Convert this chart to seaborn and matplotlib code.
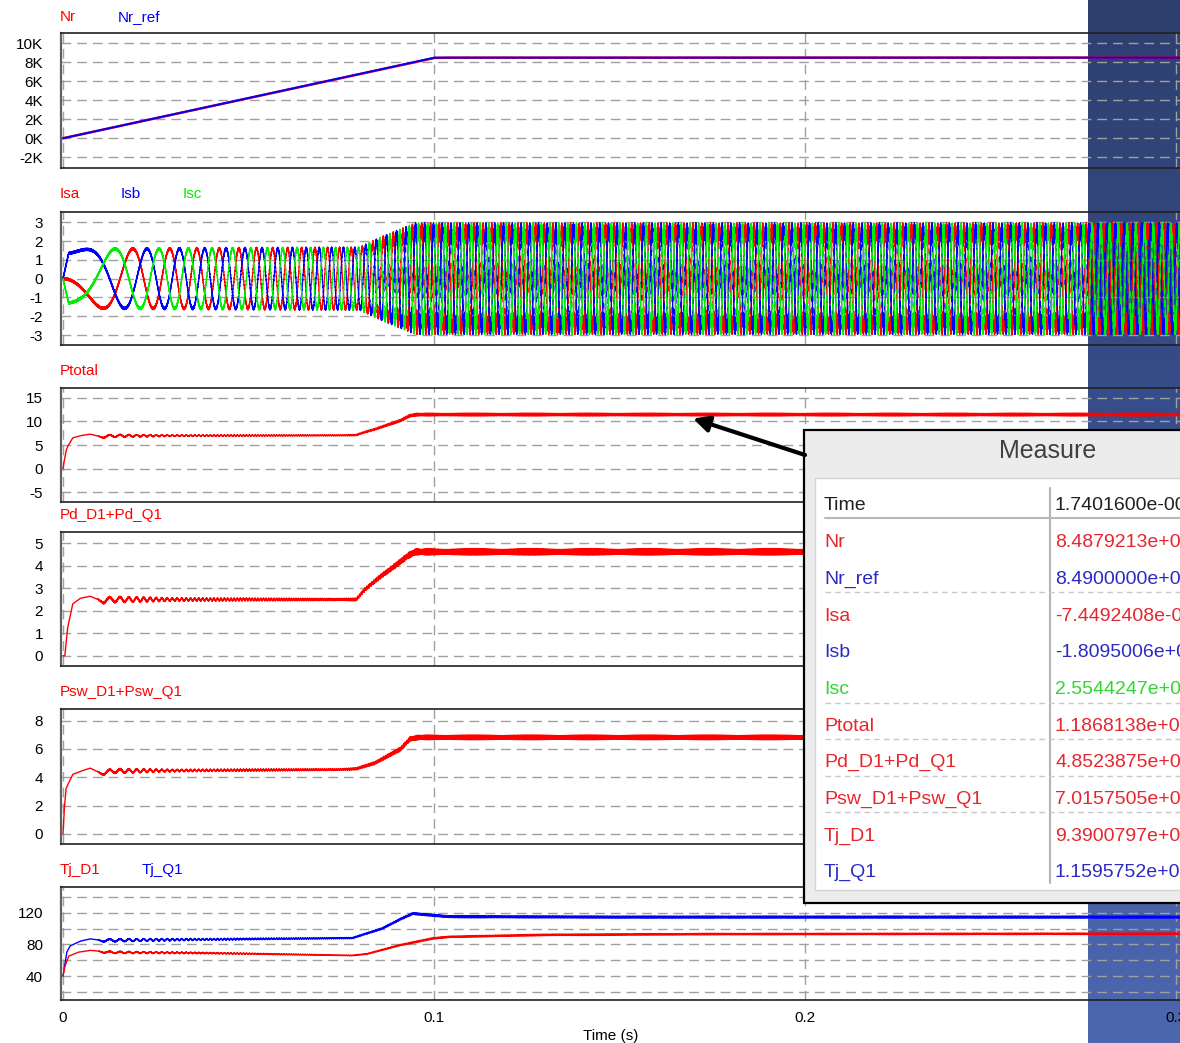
import numpy as np
import matplotlib
matplotlib.use("Agg")
import matplotlib.pyplot as plt
from matplotlib.patches import Rectangle
from matplotlib.colors import LinearSegmentedColormap
from matplotlib.ticker import FuncFormatter
import seaborn as sns

# ------------------------------------------------------------------ data
time_ticks = [0.0, 0.1, 0.2, 0.3]
time_tick_labels = ["0", "0.1", "0.2", "0.3"]

# rotor speed (rpm) and its reference
speed_t = [0.0, 0.100, 0.103, 0.174, 0.301]
nr_ref_rpm = [0, 8490, 8490, 8490, 8490]
nr_rpm = [0, 8455, 8482, 8487.9, 8489]
pole_pairs = 3

# phase-current amplitude (A) and PWM ripple (A)
amp_t = [0.0, 0.0015, 0.010, 0.080, 0.086, 0.095, 0.301]
amp_a = [0.0, 1.52, 1.58, 1.62, 2.10, 2.70, 2.70]
cur_rip_t = [0.0, 0.080, 0.095, 0.301]
cur_rip_a = [0.06, 0.07, 0.28, 0.28]

# conduction losses Pd_D1+Pd_Q1 (W)
pd_t = [0.0, 0.0005, 0.0012, 0.0026, 0.0046, 0.0073, 0.0100, 0.0140,
        0.0790, 0.0814, 0.0854, 0.0895, 0.0930, 0.0950, 0.3010]
pd_w = [0.0, 0.0, 1.2, 2.30, 2.55, 2.65, 2.45, 2.50,
        2.50, 2.95, 3.50, 4.00, 4.45, 4.62, 4.62]
pd_rip_t = [0.0, 0.009, 0.011, 0.030, 0.075, 0.095, 0.301]
pd_rip_w = [0.0, 0.0, 0.12, 0.06, 0.04, 0.11, 0.11]

# switching losses Psw_D1+Psw_Q1 (W)
psw_t = [0.0, 0.0003, 0.0008, 0.0026, 0.0050, 0.0073, 0.0100, 0.0140,
         0.0750, 0.0790, 0.0840, 0.0910, 0.0935, 0.0960, 0.3010]
psw_w = [0.0, 1.6, 3.2, 4.20, 4.45, 4.65, 4.30, 4.45,
         4.55, 4.60, 5.00, 6.00, 6.70, 6.82, 6.82]
psw_rip_t = [0.0, 0.009, 0.011, 0.030, 0.075, 0.095, 0.301]
psw_rip_w = [0.0, 0.0, 0.15, 0.07, 0.05, 0.13, 0.13]

# junction temperatures (degC)
tj_q1_t = [0.0, 0.0005, 0.0010, 0.0019, 0.0046, 0.0073, 0.0100, 0.0200,
           0.0780, 0.0860, 0.0910, 0.0943, 0.1040, 0.1500, 0.3010]
tj_q1_c = [40, 55, 70, 78, 84, 87, 85, 85.5,
           88, 100, 112, 119, 115, 114.5, 114.5]
tj_d1_t = [0.0, 0.0005, 0.0015, 0.0040, 0.0073, 0.0120, 0.0400, 0.0780,
           0.0820, 0.0908, 0.0997, 0.1040, 0.1300, 0.1740, 0.3010]
tj_d1_c = [40, 52, 65, 70, 72.5, 70, 69, 66,
           68, 79, 87.5, 89.5, 92, 93, 93.5]
tj_rip_t = [0.0, 0.009, 0.011, 0.040, 0.075, 0.095, 0.301]
tj_q1_rip = [0.0, 0.0, 1.6, 0.9, 0.6, 1.1, 1.1]
tj_d1_rip = [0.0, 0.0, 1.2, 0.7, 0.4, 0.8, 0.8]

# probe readout
measure_names = ["Time", "Nr", "Nr_ref", "Isa", "Isb", "Isc", "Ptotal",
                 "Pd_D1+Pd_Q1", "Psw_D1+Psw_Q1", "Tj_D1", "Tj_Q1"]
measure_values = ["1.7401600e-001", "8.4879213e+003", "8.4900000e+003",
                  "-7.4492408e-001", "-1.8095006e+000", "2.5544247e+000",
                  "1.1868138e+001", "4.8523875e+000", "7.0157505e+000",
                  "9.3900797e+001", "1.1595752e+002"]

# ------------------------------------------------------------------ signals
fs = 200_000
f_sw = 10_000
t = np.arange(0.0, 0.3012, 1.0 / fs)

nr = np.interp(t, speed_t, nr_rpm)
nr_ref = np.interp(t, speed_t, nr_ref_rpm)
theta = 2 * np.pi * pole_pairs * np.cumsum(nr / 60.0) / fs

amp = np.interp(t, amp_t, amp_a)
crip = np.interp(t, cur_rip_t, cur_rip_a)
sw = 2 * np.pi * f_sw * t
isa = -amp * np.sin(theta) + crip * np.sin(sw)
isb = -amp * np.sin(theta - 2 * np.pi / 3) + crip * np.sin(sw + 2.1)
isc = -amp * np.sin(theta + 2 * np.pi / 3) + crip * np.sin(sw + 4.2)

wob = np.cos(6 * theta) + 0.35 * np.sin(sw * 0.77)
pd_loss = np.interp(t, pd_t, pd_w) + np.interp(t, pd_rip_t, pd_rip_w) * wob
psw_loss = np.interp(t, psw_t, psw_w) + np.interp(t, psw_rip_t, psw_rip_w) * wob
ptotal = pd_loss + psw_loss
tj_q1 = np.interp(t, tj_q1_t, tj_q1_c) + np.interp(t, tj_rip_t, tj_q1_rip) * wob
tj_d1 = np.interp(t, tj_d1_t, tj_d1_c) + np.interp(t, tj_rip_t, tj_d1_rip) * wob

# ------------------------------------------------------------------ style
sns.set_style("white")
plt.rcParams["font.family"] = ["Liberation Sans", "DejaVu Sans"]
plt.rcParams["axes.unicode_minus"] = False

RED, BLUE, GREEN = "#ff0000", "#0000ff", "#00ee00"
W, H = 1180, 1043
fig = plt.figure(figsize=(W / 100, H / 100), dpi=100)
fig.patch.set_facecolor("white")

# navy window strip behind the right end of the plots
bg = fig.add_axes([1088 / W, 0, (W - 1088) / W, 1], zorder=-5)
band = LinearSegmentedColormap.from_list("band", ["#2d3f6e", "#3b5292", "#4d67af"])
bg.imshow(np.linspace(0, 1, 256).reshape(-1, 1), aspect="auto", cmap=band,
          extent=[0, 1, 1, 0])
bg.axis("off")

px_left = 61
x0 = -(63 - px_left) / 3710.0
x1 = (W - 63) / 3710.0

# (top px, bottom px, ylim, yticks, minor grid ticks)
panels = [
    (33.3, 168.3, (-3160, 11050), [-2000, 0, 2000, 4000, 6000, 8000, 10000], []),
    (211.7, 345.0, (-3.53, 3.56), [-3, -2, -1, 0, 1, 2, 3], []),
    (388.3, 501.7, (-6.99, 17.0), [-5, 0, 5, 10, 15], []),
    (532.3, 665.7, (-0.445, 5.49), [0, 1, 2, 3, 4, 5], []),
    (709.3, 844.0, (-0.706, 8.8), [0, 2, 4, 6, 8], []),
    (886.7, 1000.0, (9.7, 152.9), [40, 80, 120], [20, 60, 100, 140]),
]

axes = []
for i, (top, bot, ylim, yt, ymin) in enumerate(panels):
    ax = fig.add_axes([px_left / W, 1 - bot / H, (W - px_left) / W, (bot - top) / H])
    ax.set_facecolor("none")
    ax.set_xlim(x0, x1)
    ax.set_ylim(*ylim)
    ax.set_xticks(time_ticks)
    ax.set_yticks(yt)
    if ymin:
        ax.set_yticks(ymin, minor=True)
    ax.grid(True, which="both", color="#a0a0a0", lw=1.0, linestyle=(0, (7, 4.3)))
    ax.tick_params(axis="both", which="both", length=0, labelsize=11,
                   colors="black")
    ax.tick_params(axis="y", pad=13)
    ax.tick_params(axis="x", pad=8)
    for s in ("top", "bottom"):
        ax.spines[s].set_color("#202020")
        ax.spines[s].set_linewidth(1.2)
    ax.spines["left"].set_color("#606060")
    ax.spines["left"].set_linewidth(1.6)
    ax.spines["right"].set_visible(False)
    if i < len(panels) - 1:
        ax.tick_params(axis="x", labelbottom=False)
    else:
        ax.set_xticklabels(time_tick_labels)
    axes.append(ax)

axes[0].yaxis.set_major_formatter(FuncFormatter(lambda v, p: f"{int(round(v / 1000))}K"))


def trace(ax, y, color, lw):
    sns.lineplot(x=t, y=y, ax=ax, color=color, lw=lw, estimator=None,
                 sort=False, legend=False)
    ax.set_xlabel("")
    ax.set_ylabel("")


trace(axes[0], nr, RED, 1.8)
trace(axes[0], nr_ref, BLUE, 1.4)
trace(axes[1], isa, RED, 0.9)
trace(axes[1], isb, BLUE, 0.9)
trace(axes[1], isc, GREEN, 0.9)
trace(axes[2], ptotal, RED, 1.0)
trace(axes[3], pd_loss, RED, 1.0)
trace(axes[4], psw_loss, RED, 1.0)
trace(axes[5], tj_q1, BLUE, 1.0)
trace(axes[5], tj_d1, RED, 1.0)

# ------------------------------------------------------------------ overlay (pixel coordinates)
ov = fig.add_axes([0, 0, 1, 1], zorder=10)
ov.set_xlim(0, W)
ov.set_ylim(H, 0)
ov.axis("off")
ov.patch.set_alpha(0)

lab = dict(fontsize=11, va="center", ha="left")
ov.text(60, 17, "Nr", color=RED, **lab)
ov.text(118, 17, "Nr_ref", color=BLUE, **lab)
ov.text(60, 194, "Isa", color=RED, **lab)
ov.text(121, 194, "Isb", color=BLUE, **lab)
ov.text(183, 194, "Isc", color=GREEN, **lab)
ov.text(60, 371, "Ptotal", color=RED, **lab)
ov.text(60, 515, "Pd_D1+Pd_Q1", color=RED, **lab)
ov.text(60, 692, "Psw_D1+Psw_Q1", color=RED, **lab)
ov.text(60, 870, "Tj_D1", color=RED, **lab)
ov.text(142, 870, "Tj_Q1", color=BLUE, **lab)
ov.text(611, 1036, "Time (s)", fontsize=11, va="center", ha="center", color="black")

# arrow pointing at the Ptotal trace
ov.annotate("", xy=(693, 418.5), xytext=(805, 455),
            arrowprops=dict(arrowstyle="-|>", lw=3.0, color="black",
                            mutation_scale=24, shrinkA=0, shrinkB=0))

# measure window
ov.add_patch(Rectangle((804, 429.5), 420, 473, facecolor="#ececec",
                       edgecolor="black", lw=1.6))
ov.add_patch(Rectangle((815, 478), 420, 412, facecolor="white",
                       edgecolor="#d4d4d4", lw=1.0))
ov.text(1048, 451, "Measure", fontsize=18, color="#404040", ha="center", va="center")
ov.plot([1049.5, 1049.5], [488, 883], color="#b4b4b4", lw=1.5)
ov.plot([825, 1200], [518.3, 518.3], color="#b8b8b8", lw=1.5)
for yy in [591.7, 702.7, 739.0, 775.7, 812.3]:
    ov.plot([825, 1200], [yy, yy], color="#c8c8c8", lw=1.0, linestyle=(0, (4, 3)))

row_colors = ["#202020", "#e6262e", "#2b2bc4", "#e6262e", "#2b2bc4", "#2fd82f",
              "#e6262e", "#e6262e", "#e6262e", "#e6262e", "#2b2bc4"]
for k, (name, val, col) in enumerate(zip(measure_names, measure_values, row_colors)):
    yy = 506 + 36.67 * k
    ov.text(824, yy, name, fontsize=14, color=col, ha="left", va="center")
    ov.text(1055, yy, val, fontsize=14, color=col, ha="left", va="center")

fig.savefig("out.png", dpi=100)
